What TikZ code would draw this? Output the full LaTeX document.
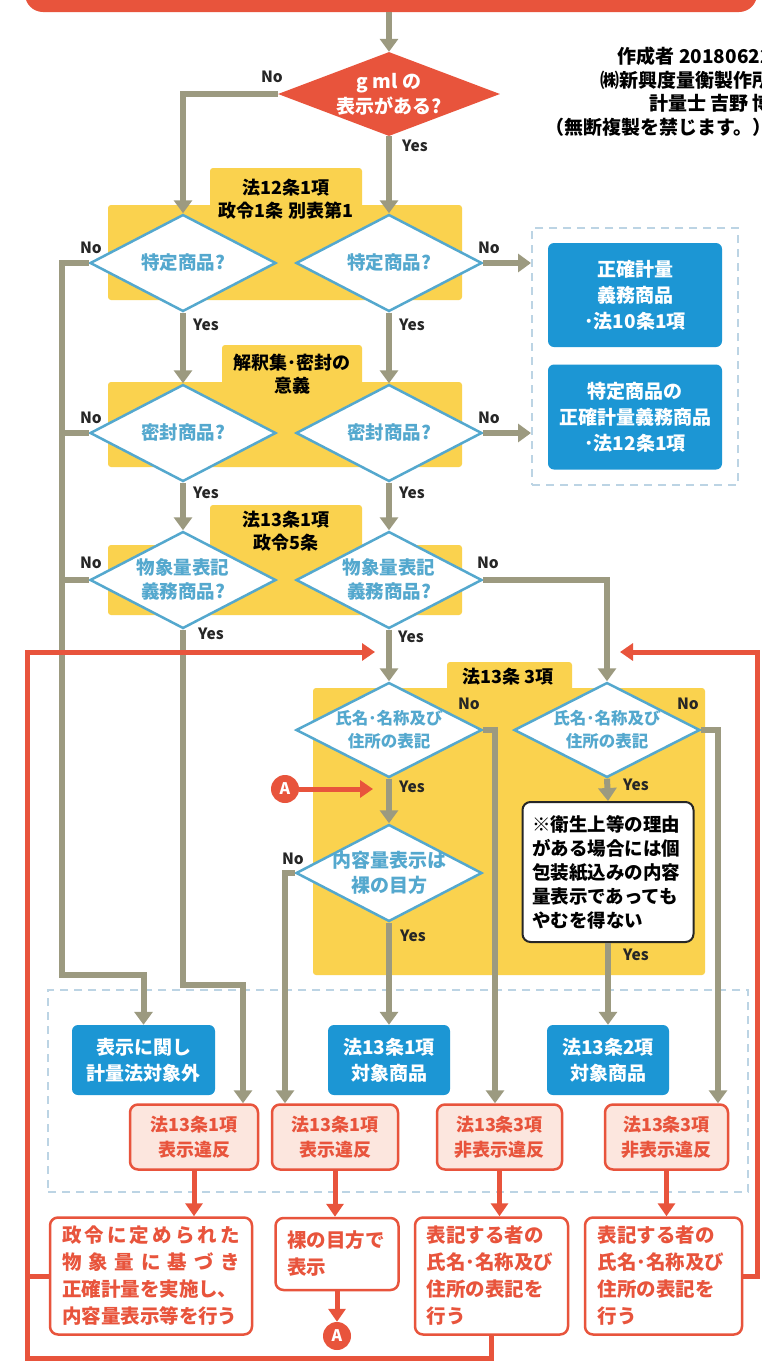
\documentclass[tikz,border=0pt]{standalone}
\usepackage{fontspec}
\setmainfont{Noto Sans CJK JP}
\usetikzlibrary{shapes.geometric,arrows.meta,calc}
\definecolor{cgray}{RGB}{156,154,128}
\definecolor{cred}{RGB}{232,84,60}
\definecolor{cyel}{RGB}{250,210,78}
\definecolor{cblue}{RGB}{28,150,212}
\definecolor{cdia}{RGB}{84,168,206}
\definecolor{cpink}{RGB}{252,230,222}
\definecolor{cdash}{RGB}{188,212,228}
\newcommand\fs[2]{\fontsize{#1}{#2}\selectfont\bfseries}
\newcommand\dtxt[1]{\smash{\makebox[0pt]{\raisebox{-0.35em}{\begin{tabular}{@{}c@{}}#1\end{tabular}}}}}
\begin{document}
\begin{tikzpicture}[x=1pt,y=-1pt,
  gl/.style={draw=cgray, line width=6pt},
  ga/.style={gl, -{Triangle[width=18pt,length=13pt]}},
  rl/.style={draw=cred, line width=5pt},
  ra/.style={rl, -{Triangle[width=17pt,length=13pt]}},
  dia/.style={diamond, draw=cdia, line width=2.5pt, fill=white, inner sep=0pt,
    minimum width=186pt, minimum height=97pt, text=cdia, font=\fs{18.5}{24}},
  reddia/.style={diamond, fill=cred, inner sep=0pt, minimum width=222pt,
    minimum height=84pt, text=white, font=\fs{19}{25}},
  bbox/.style={rectangle, rounded corners=6pt, fill=cblue, text=white,
    align=center, inner sep=0pt, font=\fs{19}{26}},
  vbox/.style={rectangle, rounded corners=8pt, fill=cpink, draw=cred,
    line width=2.5pt, text=cred, align=center, inner sep=0pt, font=\fs{18}{25}},
  fbox/.style={rectangle, rounded corners=8pt, fill=white, draw=cred,
    line width=2.5pt, text=cred, align=left, inner sep=0pt, font=\fs{19.5}{27}},
  dashbox/.style={rectangle, draw=cdash, line width=2pt, dash pattern=on 8pt off 6pt,
    inner sep=0pt},
  tabtxt/.style={font=\fs{18}{23.5}, align=center, inner sep=0pt},
  yn/.style={font=\fs{15.5}{16}, text=black!85, inner sep=0pt},
  circA/.style={circle, fill=cred, text=white, minimum size=28pt, inner sep=0pt,
    font=\fs{16}{16}}
]
\useasboundingbox (0,0) rectangle (761,1363);
\clip (0,0) rectangle (761,1363);
\fill[white] (0,0) rectangle (761,1363);

% title banner
\node[fill=cred, rounded corners=18pt, minimum width=732pt, minimum height=60pt, inner sep=0pt] (title) at (391,-18) {};

% author
\node[anchor=north east, align=right, font=\fs{19}{23.5}, inner sep=0pt] (auth) at (772,47)
  {作成者\ 20180622\\㈱新興度量衡製作所\\計量士\ 吉野\ 博\\（無断複製を禁じます。）};

% yellow panels
\fill[cyel, rounded corners=3pt] (210,168) rectangle (362,210);
\fill[cyel, rounded corners=3pt] (108,205) rectangle (462,300);
\fill[cyel, rounded corners=3pt] (222,345) rectangle (362,387);
\fill[cyel, rounded corners=3pt] (108,382) rectangle (462,467);
\fill[cyel, rounded corners=3pt] (210,505) rectangle (362,550);
\fill[cyel, rounded corners=3pt] (108,545) rectangle (462,615);
\fill[cyel, rounded corners=3pt] (447,662) rectangle (572,693);
\fill[cyel, rounded corners=3pt] (313,688) rectangle (705,975);

\node[tabtxt] (t1) at (286,199) {法12条1項\\政令1条 別表第1};
\node[tabtxt] (t2) at (292,374) {解釈集･密封の\\意義};
\node[tabtxt] (t3) at (286,531) {法13条1項\\政令5条};
\node[tabtxt] (t4) at (508,677) {法13条 3項};

% dashed groups
\node[dashbox, minimum width=206pt, minimum height=257pt] (rbox) at (635,356.5) {};
\node[dashbox, minimum width=700pt, minimum height=202pt] (lbox) at (398,1091) {};

% diamonds
\node[reddia] (d1) at (389,94) {\dtxt{g ml の\\表示がある?}};
\node[dia] (d2a) at (183,263) {\dtxt{特定商品?}};
\node[dia] (d2b) at (389,263) {\dtxt{特定商品?}};
\node[dia] (d3a) at (183,433) {\dtxt{密封商品?}};
\node[dia] (d3b) at (389,433) {\dtxt{密封商品?}};
\node[dia] (d4a) at (183,580) {\dtxt{物象量表記\\義務商品?}};
\node[dia] (d4b) at (389,580) {\dtxt{物象量表記\\義務商品?}};
\node[dia, minimum height=95pt, font=\fs{16.5}{23}] (d5a) at (389,730) {\dtxt{氏名･名称及び\\住所の表記}};
\node[dia, minimum height=95pt, font=\fs{16.5}{23}] (d5b) at (607,730) {\dtxt{氏名･名称及び\\住所の表記}};
\node[dia, minimum height=97pt, font=\fs{19}{25}] (d6) at (389,873) {\dtxt{内容量表示は\\裸の目方}};

% note
\node[rectangle, rounded corners=8pt, fill=white, draw=black!85, line width=2pt,
  minimum width=171pt, minimum height=140pt, text width=152pt, align=left,
  inner sep=0pt, font=\fs{18.5}{24}] (note) at (608,872)
  {※衛生上等の理由\\がある場合には個\\包装紙込みの内容\\量表示であっても\\やむを得ない};

% blue boxes
\node[bbox, minimum width=174pt, minimum height=104pt] (b1) at (635,295) {正確計量\\義務商品\\･法10条1項};
\node[bbox, minimum width=174pt, minimum height=105pt] (b2) at (635,417) {特定商品の\\正確計量義務商品\\･法12条1項};
\node[bbox, minimum width=143pt, minimum height=70pt] (e1) at (143.5,1060) {表示に関し\\計量法対象外};
\node[bbox, minimum width=122pt, minimum height=70pt] (e2) at (389,1060) {法13条1項\\対象商品};
\node[bbox, minimum width=122pt, minimum height=70pt] (e3) at (608,1060) {法13条2項\\対象商品};

% violation boxes
\node[vbox, minimum width=128pt, minimum height=65pt] (v1) at (194,1137) {法13条1項\\表示違反};
\node[vbox, minimum width=126pt, minimum height=65pt] (v2) at (335,1137) {法13条1項\\表示違反};
\node[vbox, minimum width=125pt, minimum height=65pt] (v3) at (499.5,1137) {法13条3項\\非表示違反};
\node[vbox, minimum width=123pt, minimum height=65pt] (v4) at (666.5,1137) {法13条3項\\非表示違反};

% final boxes
\node[fbox, minimum width=202pt, minimum height=117pt, text width=178pt] (f1) at (151,1276)
  {\makebox[178pt][s]{政\hfill 令\hfill に\hfill 定\hfill め\hfill ら\hfill れ\hfill た}\\
   \makebox[178pt][s]{物\hfill 象\hfill 量\hfill に\hfill 基\hfill づ\hfill き}\\
   \makebox[178pt][s]{正確計量を実施し、}\\
   \makebox[178pt][s]{内容量表示等を行う}};
\node[fbox, minimum width=123pt, minimum height=72pt, text width=100pt] (f2) at (337,1254) {裸の目方で\\表示};
\node[fbox, minimum width=153pt, minimum height=117pt, text width=130pt] (f3) at (491.5,1276) {表記する者の\\氏名･名称及び\\住所の表記を\\行う};
\node[fbox, minimum width=157pt, minimum height=117pt, text width=132pt] (f4) at (663.5,1276) {表記する者の\\氏名･名称及び\\住所の表記を\\行う};

\node[circA] (a1) at (285,789) {A};
\node[circA] (a2) at (337,1336) {A};

% gray connectors
\draw[ga] (d1.north |- title.south) -- (d1.north);
\draw[ga] (d1.west) -| (d2a.north);
\draw[ga] (d1.south) -- (d2b.north);
\draw[ga] (d2a.south) -- (d3a.north);
\draw[ga] (d2b.south) -- (d3b.north);
\draw[ga] (d3a.south) -- (d4a.north);
\draw[ga] (d3b.south) -- (d4b.north);
\draw[ga] (d2b.east) -- (d2b.east -| rbox.west);
\draw[ga] (d3b.east) -- (d3b.east -| rbox.west);
\coordinate (L1) at (62,975);
\draw[ga] (d2a.west) -| (L1) -| (e1.north);
\draw[gl] (d3a.west) -- (d3a.west -| L1);
\draw[gl] (d4a.west) -- (d4a.west -| L1);
\coordinate (L2) at (243,985);
\draw[ga] (d4a.south) |- (L2) -- (L2 |- v1.north);
\draw[ga] (d4b.south) -- (d5a.north);
\draw[ga] (d4b.east) -| (d5b.north);
\coordinate (L4) at (495,730);
\draw[ga] (d5a.east) -- (L4) -- (L4 |- v3.north);
\coordinate (L5) at (718,730);
\draw[ga] (d5b.east) -- (L5) -- (L5 |- v4.north);
\draw[ga] (d5a.south) -- (d6.north);
\coordinate (L3) at (285,873);
\draw[ga] (d6.west) -- (L3) -- (L3 |- v2.north);
\draw[ga] (d6.south) -- (e2.north);
\draw[ga] (d5b.south) -- (note.north);
\draw[ga] (note.south) -- (e3.north);

% red connectors
\coordinate (R1) at (27,1358);
\coordinate (R2) at (27,652);
\coordinate (RT) at (375,652);
\draw[ra] (f3.south) |- (R1) -- (R2) -- (RT);
\draw[rl] (f1.west) -- (f1.west -| R1);
\coordinate (R3) at (757,652);
\coordinate (RT2) at (620,652);
\draw[ra] (f4.east) -| (R3) -- (RT2);
\coordinate (AT) at (373,789);
\draw[ra] (a1.east) -- (AT);
\draw[ra] (f2.south) -- (a2.north);
\draw[ra] (v1.south) -- (v1.south |- f1.north);
\draw[ra] (v2.south) -- (v2.south |- f2.north);
\draw[ra] (v3.south) -- (v3.south |- f3.north);
\draw[ra] (v4.south) -- (v4.south |- f4.north);

% Yes / No labels
\node[yn] (n1) at (272,77) {No};
\node[yn] (y1) at (415,146) {Yes};
\node[yn] (n2a) at (91,248) {No};
\node[yn] (y2a) at (206,325) {Yes};
\node[yn] (n2b) at (489,248) {No};
\node[yn] (y2b) at (412,325) {Yes};
\node[yn] (n3a) at (91,418) {No};
\node[yn] (y3a) at (206,493) {Yes};
\node[yn] (n3b) at (489,418) {No};
\node[yn] (y3b) at (412,493) {Yes};
\node[yn] (n4a) at (91,563) {No};
\node[yn] (y4a) at (211,634) {Yes};
\node[yn] (n4b) at (488,563) {No};
\node[yn] (y4b) at (411,637) {Yes};
\node[yn] (n5a) at (469,704) {No};
\node[yn] (y5a) at (412,787) {Yes};
\node[yn] (n5b) at (688,704) {No};
\node[yn] (y5b) at (636,785) {Yes};
\node[yn] (n6) at (293,859) {No};
\node[yn] (y6) at (413,936) {Yes};
\node[yn] (y7) at (636,955) {Yes};
\end{tikzpicture}
\end{document}
